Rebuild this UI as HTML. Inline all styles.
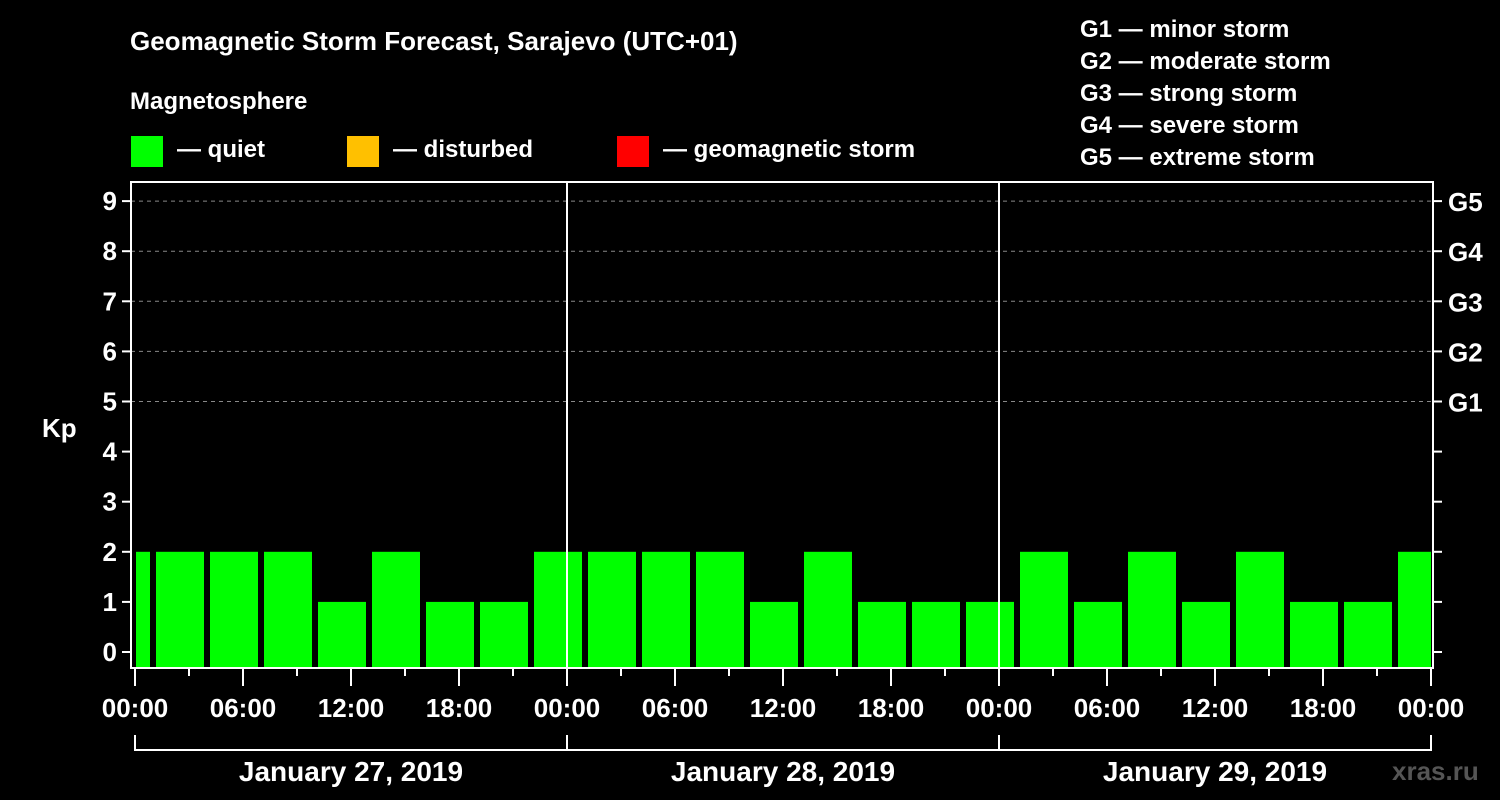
<!DOCTYPE html>
<html><head><meta charset="utf-8"><style>
body{margin:0;background:#000;}
svg{display:block;font-family:"Liberation Sans",Arial,sans-serif;font-weight:bold;}
</style></head><body>
<svg id="c" width="1500" height="800" viewBox="0 0 1500 800">
<rect width="1500" height="800" fill="#000"/>
<text x="130" y="50" fill="#fff" font-size="26">Geomagnetic Storm Forecast, Sarajevo (UTC+01)</text>
<text x="130" y="109" fill="#fff" font-size="24">Magnetosphere</text>
<g><rect x="131" y="136" width="32" height="31" fill="#00ff00"/><text x="177" y="157" fill="#fff" font-size="24">— quiet</text></g>
<g><rect x="347" y="136" width="32" height="31" fill="#ffc000"/><text x="393" y="157" fill="#fff" font-size="24">— disturbed</text></g>
<g><rect x="617" y="136" width="32" height="31" fill="#ff0000"/><text x="663" y="157" fill="#fff" font-size="24">— geomagnetic storm</text></g>
<g fill="#fff" font-size="24">
<text x="1080" y="37">G1 — minor storm</text>
<text x="1080" y="69">G2 — moderate storm</text>
<text x="1080" y="101">G3 — strong storm</text>
<text x="1080" y="133">G4 — severe storm</text>
<text x="1080" y="165">G5 — extreme storm</text>
</g>
<text x="42" y="437" fill="#fff" font-size="26">Kp</text>
<g id="grid"></g><g id="bars"></g><g id="axes"></g>
<text x="1392" y="780" fill="#555" font-size="26">xras.ru</text>
</svg>
<script>
const kpValues=[2, 2,2,2,1,2,1,1,2, 2,2,2,1,2,1,1,1, 2,1,2,1,2,1,1,2];
const startHour=-2;
const yTicks=[0,1,2,3,4,5,6,7,8,9];
const gLabels=["G1","G2","G3","G4","G5"];
const xTickLabels=["00:00","06:00","12:00","18:00","00:00","06:00","12:00","18:00","00:00","06:00","12:00","18:00","00:00"];
const dateLabels=["January 27, 2019","January 28, 2019","January 29, 2019"];
const NS="http://www.w3.org/2000/svg";
const L=131,R=1433,T=182,B=668,X0=135,PXH=18;
const x=h=>X0+h*PXH;
const y=v=>652-v*50.1;
function mk(parent,tag,attrs){const e=document.createElementNS(NS,tag);for(const k in attrs)e.setAttribute(k,attrs[k]);document.getElementById(parent).appendChild(e);return e;}
yTicks.forEach(v=>{
  if(v>=5){const g=mk('grid','line',{x1:L,x2:R,y1:y(v),y2:y(v),stroke:'#888','stroke-dasharray':'4,4'});
  
  }
  const t=mk('axes','line',{x1:L-9,x2:L,y1:y(v),y2:y(v),stroke:'#fff','stroke-width':2});
  
  
  const rt=mk('axes','line',{x1:R,x2:R+9,y1:y(v),y2:y(v),stroke:'#fff','stroke-width':2});
  
  
  const l=mk('axes','text',{x:L-14,y:y(v)+9,fill:'#fff','font-size':26,'text-anchor':'end'});
  l.textContent=v;
  
  
});
gLabels.forEach((g,i)=>{
  const l=mk('axes','text',{x:R+15,y:y(5+i)+10,fill:'#fff','font-size':26});
  l.textContent=g;
  
  
});
kpValues.forEach((v,i)=>{
  let a=x(startHour+i*3)+3,b=x(startHour+i*3+3)-3;
  a=Math.max(a,X0+1);b=Math.min(b,R-2);
  const c=v>=5?'#ff0000':(v>=4?'#ffc000':'#00ff00');
  const r=mk('bars','rect',{x:a,y:y(v),width:b-a,height:B-y(v),fill:c});
  
  
});
const f=mk('axes','path',{d:`M${L},${T}H${R}V${B}H${L}Z`,fill:'none',stroke:'#fff','stroke-width':2});


for(let d=1;d<3;d++){const s=mk('axes','line',{x1:x(d*24),x2:x(d*24),y1:T,y2:B,stroke:'#fff','stroke-width':2});

}
for(let h=0;h<=72;h+=3){
  const major=h%6===0;
  const t=mk('axes','line',{x1:x(h),x2:x(h),y1:B,y2:B+(major?18:8),stroke:'#fff','stroke-width':2});
  
  
}
xTickLabels.forEach((s,i)=>{
  const l=mk('axes','text',{x:x(i*6),y:717,fill:'#fff','font-size':26,'text-anchor':'middle'});
  l.textContent=s;
  
  
});
const br=mk('axes','path',{d:`M${x(0)},735V750H${x(72)}V735M${x(24)},735V750M${x(48)},735V750`,fill:'none',stroke:'#fff','stroke-width':2});


dateLabels.forEach((s,i)=>{
  const l=mk('axes','text',{x:x(i*24+12),y:781,fill:'#fff','font-size':28,'text-anchor':'middle'});
  l.textContent=s;
  
  
});
</script>
</body></html>
